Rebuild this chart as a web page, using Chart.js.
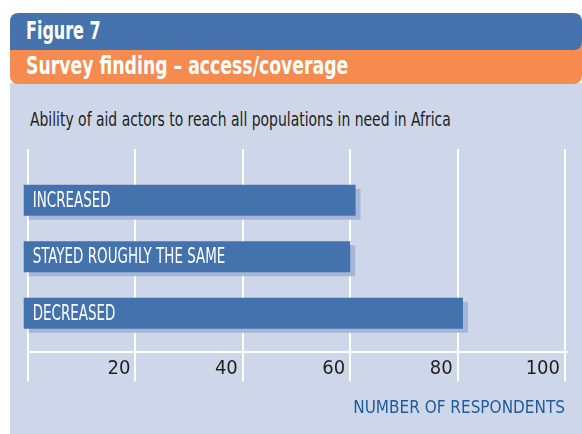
<!DOCTYPE html>
<html>
<head>
<meta charset="utf-8">
<script src="https://cdn.jsdelivr.net/npm/chart.js@4.4.0/dist/chart.umd.min.js"></script>
<style>
  body { margin: 0; background: #fff; }
  #fig { position: relative; width: 582px; height: 434px; overflow: hidden; font-family: 'Liberation Sans Narrow', 'DejaVu Sans Condensed', sans-serif; }
  .band { position: absolute; left: 10px; right: 0; color: #fff; font-weight: bold; font-size: 24px; padding-left: 16px; box-sizing: border-box; white-space: nowrap; }
  .band span { display: inline-block; transform-origin: left center; }
  #fignum { top: 13px; height: 37px; line-height: 37px; background: #4673ad; border-radius: 8px 8px 8px 0; z-index: 2; }
  #fignum span { transform: scaleX(0.74); }
  #figtitle { top: 44px; height: 40px; padding-top: 6px; line-height: 33px; background: #f68b4f; border-radius: 0 0 8px 8px; z-index: 1; }
  #figtitle span { transform: scaleX(0.8); }
  #panel { position: absolute; left: 10px; right: 0; top: 83px; bottom: 0; background: #ced7e9; }
  #subtitle { position: absolute; left: 30px; top: 108px; font-size: 19px; color: #231f20; transform: scaleX(0.815); transform-origin: left; white-space: nowrap; z-index: 3; }
  #c { position: absolute; left: 0; top: 0; z-index: 4; }
</style>
</head>
<body>
<div id="fig">
  <div id="panel"></div>
  <div class="band" id="fignum"><span>Figure 7</span></div>
  <div class="band" id="figtitle"><span>Survey finding – access/coverage</span></div>
  <div id="subtitle">Ability of aid actors to reach all populations in need in Africa</div>
  <canvas id="c" width="582" height="434"></canvas>
</div>
<script>
const categories = ['INCREASED', 'STAYED ROUGHLY THE SAME', 'DECREASED'];
const respondents = [61, 60, 81];
const tickValues = [0, 20, 40, 60, 80, 100];

const FONT = "'Liberation Sans Narrow', 'DejaVu Sans Condensed', sans-serif";
Chart.defaults.font.family = FONT;

// flat offset shadow behind the bars
const barShadow = {
  id: 'barShadow',
  beforeDatasetsDraw(chart) {
    const ctx = chart.ctx;
    ctx.save();
    ctx.shadowColor = '#a6b6d9';
    ctx.shadowOffsetX = 5;
    ctx.shadowOffsetY = 4;
    ctx.shadowBlur = 0;
  },
  afterDatasetsDraw(chart) {
    chart.ctx.restore();
  }
};

// white baseline sits a little under the bars
const axisLine = {
  id: 'axisLine',
  afterDraw(chart) {
    const { ctx, chartArea, scales: { x } } = chart;
    const y = chartArea.bottom + 10.5;
    ctx.save();
    ctx.strokeStyle = '#fff';
    ctx.lineWidth = 2;
    ctx.beginPath();
    ctx.moveTo(x.getPixelForValue(0) - 1, y);
    ctx.lineTo(x.right + 3, y);
    ctx.stroke();
    ctx.restore();
  }
};

// category names written inside the bars
const barLabels = {
  id: 'barLabels',
  afterDraw(chart) {
    const ctx = chart.ctx;
    const meta = chart.getDatasetMeta(0);
    ctx.save();
    ctx.fillStyle = '#fff';
    ctx.font = '22px ' + FONT;
    ctx.textBaseline = 'middle';
    meta.data.forEach((bar, i) => {
      ctx.save();
      ctx.translate(bar.base + 9, bar.y + 1);
      ctx.scale(0.68, 1);
      ctx.fillText(categories[i], 0, 0);
      ctx.restore();
    });
    ctx.restore();
  }
};

const setTicks = (scale) => { scale.ticks = tickValues.map(v => ({ value: v })); };

new Chart(document.getElementById('c'), {
  type: 'bar',
  data: {
    labels: categories,
    datasets: [{
      data: respondents,
      backgroundColor: '#4472ad',
      borderWidth: 0,
      base: -0.8,
      clip: false,
      categoryPercentage: 1,
      barPercentage: 0.55
    }]
  },
  options: {
    indexAxis: 'y',
    responsive: false,
    animation: false,
    layout: { padding: { left: 28, right: 17, top: 149, bottom: 14.8 } },
    plugins: { legend: { display: false }, tooltip: { enabled: false } },
    scales: {
      y: { display: false },
      x: {
        type: 'linear',
        position: 'bottom',
        min: 0,
        max: 100,
        afterBuildTicks: setTicks,
        grid: { color: '#fff', lineWidth: 2, tickLength: 40 },
        border: { display: false },
        ticks: {
          align: 'end',
          labelOffset: -5,
          padding: -24.5,
          color: '#231f20',
          font: { size: 20 },
          callback: v => v === 0 ? '' : v
        },
        title: {
          display: true,
          text: 'NUMBER OF RESPONDENTS',
          align: 'end',
          color: '#1d5b9c',
          font: { size: 17 },
          padding: { top: 42.3, bottom: 0 }
        }
      },
      x2: {
        type: 'linear',
        axis: 'x',
        position: 'top',
        min: 0,
        max: 100,
        afterBuildTicks: setTicks,
        grid: { color: '#fff', lineWidth: 2, tickLength: 23, drawOnChartArea: false },
        border: { display: false },
        ticks: { display: false }
      }
    }
  },
  plugins: [barShadow, axisLine, barLabels]
});
</script>
</body>
</html>
